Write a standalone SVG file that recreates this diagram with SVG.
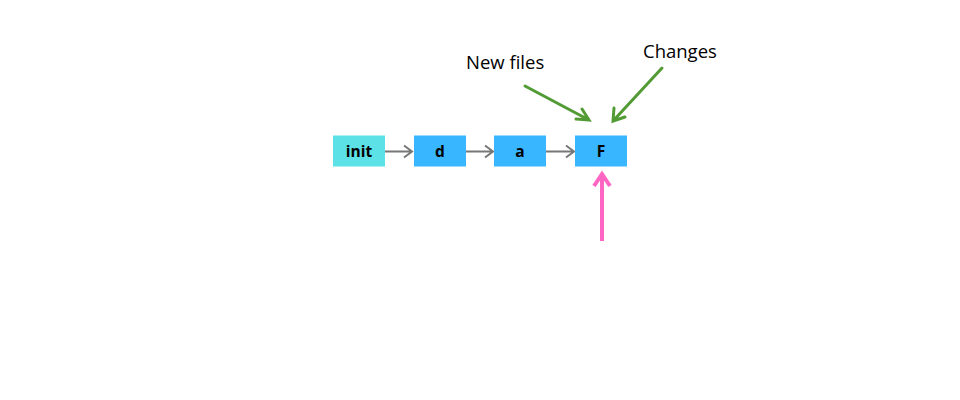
<svg xmlns="http://www.w3.org/2000/svg" width="960" height="400" viewBox="0 0 960 400">
<style>
.box{fill:#38b6ff}
.lbl{font-family:"Open Sans","Noto Sans",sans-serif;font-weight:bold;font-size:15.5px;fill:#000;text-anchor:middle}
.note{font-family:"Open Sans","Noto Sans",sans-serif;font-size:18.5px;fill:#000}
.g{stroke:#777;stroke-width:2;fill:none}
.gr{stroke:#529b34;stroke-width:3;fill:none;stroke-linecap:round}
.pk{stroke:#ff66c4;stroke-width:4;fill:none;stroke-linecap:butt}
</style>
<rect width="960" height="400" fill="#fff"/>
<g id="connectors">
<path class="g" d="M385 151.5H412M404 145.5L412 151.5L404 157.5"/>
<path class="g" d="M466 151.5H493M485 145.5L493 151.5L485 157.5"/>
<path class="g" d="M546 151.5H574M566 145.5L574 151.5L566 157.5"/>
<path class="gr" d="M525 86L589 120M576 119L589 120L582 109"/>
<path class="gr" d="M662 68L613 121M614 108L613 121L625 117"/>
<path class="pk" d="M602 241V174M594 186L602 174L610 186"/>
</g>
<g id="node-init"><rect x="333" y="135.5" width="52" height="31" fill="#5ce1e6"/><text class="lbl" x="359" y="156.5">init</text></g>
<g id="node-d"><rect class="box" x="414" y="135.5" width="52" height="31"/><text class="lbl" x="440" y="156.5">d</text></g>
<g id="node-a"><rect class="box" x="494" y="135.5" width="52" height="31"/><text class="lbl" x="520" y="156.5">a</text></g>
<g id="node-F"><rect class="box" x="575" y="135.5" width="52" height="31"/><text class="lbl" x="601" y="156.5">F</text></g>
<g id="label-new"><text class="note" x="466" y="69">New files</text></g>
<g id="label-changes"><text class="note" x="643" y="58">Changes</text></g>
</svg>
